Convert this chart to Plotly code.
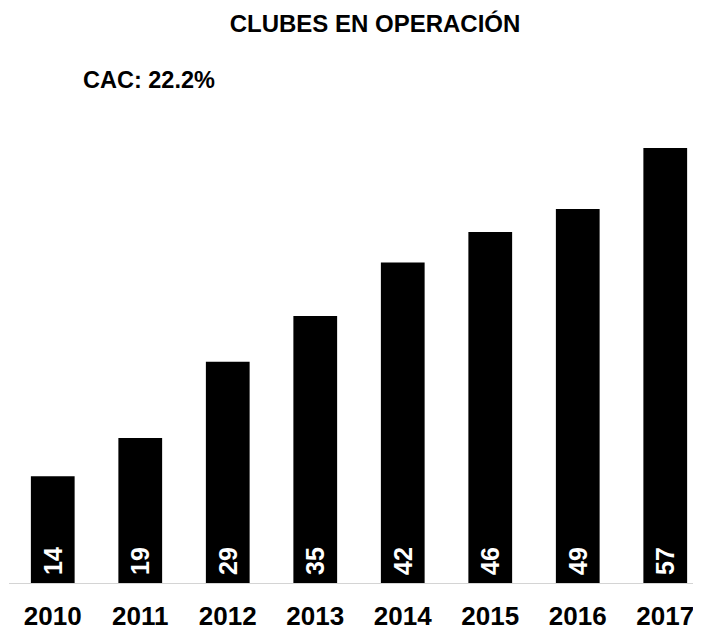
import plotly.graph_objects as go

years = ["2010", "2011", "2012", "2013", "2014", "2015", "2016", "2017"]
clubs = [14, 19, 29, 35, 42, 46, 49, 57]
title_text = "CLUBES EN OPERACIÓN"
cac_text = "CAC: 22.2%"

FONT = "Liberation Sans, Arial, Helvetica, sans-serif"

# page body has an 8px margin; figure coordinates = screen coordinates - 8
W, H = 701, 628
L, T, B = 1, 92, 53
PLOT_H = H - T - B  # 483
PX_PER_UNIT = 7.632

fig = go.Figure()
fig.add_trace(go.Bar(
    x=years,
    y=clubs,
    width=0.5,
    marker=dict(color="#000000", line=dict(width=0)),
    text=["\u2009" + str(v) for v in clubs],
    textposition="inside",
    insidetextanchor="start",
    textangle=-90,
    constraintext="none",
    textfont=dict(family=FONT, size=25, color="#ffffff", weight="bold"),
    cliponaxis=False,
    hoverinfo="skip",
))

fig.update_layout(
    width=W, height=H,
    margin=dict(l=L, r=0, t=T, b=B),
    paper_bgcolor="#ffffff",
    plot_bgcolor="#ffffff",
    showlegend=False,
    title=dict(
        text="<b>" + title_text + "</b>",
        x=367 / W, xanchor="center", xref="container",
        y=1 - 15.5 / H, yanchor="middle", yref="container",
        font=dict(family=FONT, size=24, color="#000000"),
    ),
    xaxis=dict(
        type="category",
        range=[-0.5, 7.5],
        showline=True, linecolor="#d4d4d4", linewidth=1,
        showgrid=False, zeroline=False,
        ticks="",
        ticklabelstandoff=10,
        tickfont=dict(family=FONT, size=26, color="#000000", weight="bold"),
        fixedrange=True,
    ),
    yaxis=dict(
        range=[0, PLOT_H / PX_PER_UNIT],
        visible=False,
        showgrid=False, zeroline=False,
        fixedrange=True,
    ),
    annotations=[dict(
        text="<b>" + cac_text + "</b>",
        xref="paper", yref="paper",
        x=(73 - L) / (W - L), xanchor="left",
        y=(PLOT_H + T - 72) / PLOT_H, yanchor="middle",
        showarrow=False,
        font=dict(family=FONT, size=23.5, color="#000000"),
    )],
)

fig.write_html("out.html")
